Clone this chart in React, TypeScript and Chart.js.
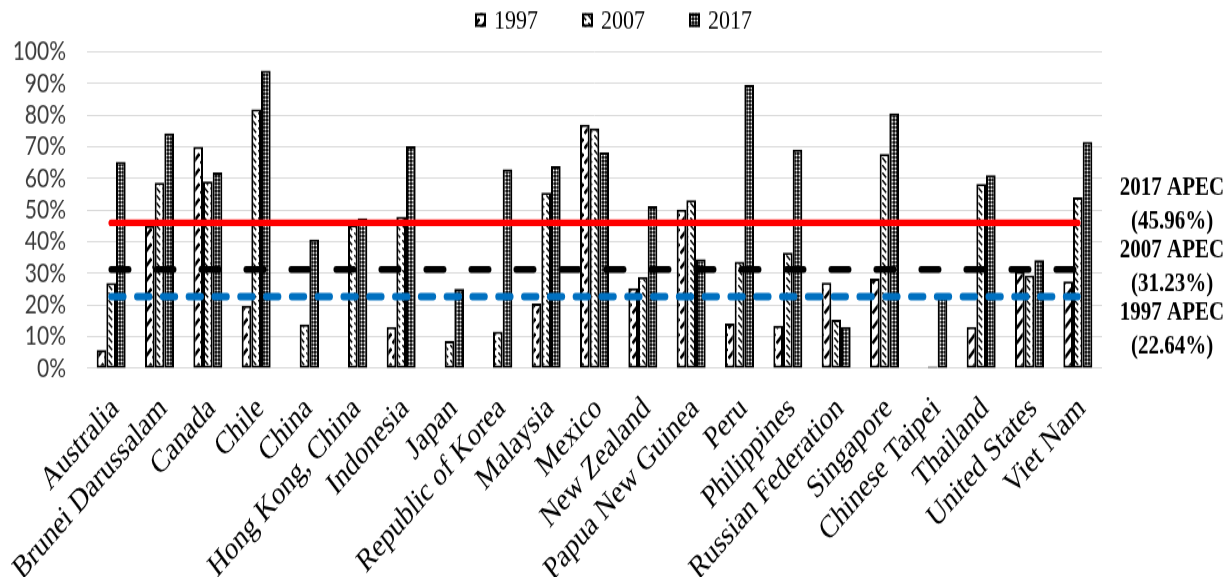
import React, { useEffect, useRef } from "react";
import { Chart, registerables } from "chart.js";

Chart.register(...registerables);

// ---------------- data ----------------
const categories = [
  "Australia",
  "Brunei Darussalam",
  "Canada",
  "Chile",
  "China",
  "Hong Kong, China",
  "Indonesia",
  "Japan",
  "Republic of Korea",
  "Malaysia",
  "Mexico",
  "New Zealand",
  "Papua New Guinea",
  "Peru",
  "Philippines",
  "Russian Federation",
  "Singapore",
  "Chinese Taipei",
  "Thailand",
  "United States",
  "Viet Nam",
];

const share1997 = [5.8, 45, 70, 19.8, null, null, 13.1, null, null, 20.5, 77, 25.3, 50.2, 14.2, 13.5, 27.1, 28.4, null, 13.1, 30.5, 27.5];
const share2007 = [27, 58.6, 59, 81.8, 13.9, 45.3, 47.9, 8.6, 11.6, 55.5, 75.8, 28.9, 53.1, 33.7, 36.5, 15.3, 67.7, 0.6, 58.2, 29.3, 54];
const share2017 = [65.2, 74.2, 61.9, 94, 40.7, 47.4, 70.2, 25.1, 62.9, 63.9, 68.2, 51.2, 34.5, 89.5, 69.1, 13.1, 80.5, 23, 61, 34.2, 71.6];

const seriesYears = ["1997", "2007", "2017"];
const apecAverages = [22.64, 31.23, 45.96];

// ---------------- layout constants ----------------
const WIDTH = 1227;
const OUT_HEIGHT = 577;
const CANVAS_HEIGHT = 462;
const STRETCH = OUT_HEIGHT / CANVAS_HEIGHT;

function makePattern(kind: number): CanvasPattern | string {
  const c = document.createElement("canvas");
  const g = c.getContext("2d");
  if (!g) return "#888";
  if (kind === 0) {
    c.width = 8;
    c.height = 12;
    g.fillStyle = "#ffffff";
    g.fillRect(0, 0, 8, 12);
    g.strokeStyle = "#000000";
    g.lineWidth = 2.6;
    g.beginPath();
    g.moveTo(0.5, 11);
    g.lineTo(7.5, 3);
    g.stroke();
  } else if (kind === 1) {
    c.width = 6;
    c.height = 6;
    g.fillStyle = "#ffffff";
    g.fillRect(0, 0, 6, 6);
    g.strokeStyle = "#000000";
    g.lineWidth = 1.5;
    g.beginPath();
    g.moveTo(0.3, 0.3);
    g.lineTo(4.2, 4.2);
    g.stroke();
  } else {
    c.width = 3;
    c.height = 3;
    g.fillStyle = "#000000";
    g.fillRect(0, 0, 3, 3);
    g.fillStyle = "#ffffff";
    g.beginPath();
    g.arc(1.5, 1.5, 1.05, 0, Math.PI * 2);
    g.fill();
  }
  const p = g.createPattern(c, "repeat");
  return p || "#888";
}

export default function App() {
  const ref = useRef<HTMLCanvasElement | null>(null);

  useEffect(() => {
    const canvas = ref.current;
    if (!canvas) return;
    const patterns = [makePattern(0), makePattern(1), makePattern(2)];
    const lineColors = ["#0070C0", "#000000", "#FF0000"];
    const lineWidths = [5.8, 5.4, 5.4];
    const lineDashes = [[12.5, 13.3], [17.6, 27.4], []];

    const first = categories[0];
    const last = categories[categories.length - 1];

    const lineSets = apecAverages.map((avg, i) => ({
      type: "line" as const,
      label: `${seriesYears[i]} APEC`,
      data: [
        { x: first, y: avg },
        { x: last, y: avg },
      ],
      borderColor: lineColors[i],
      borderWidth: lineWidths[i],
      borderDash: lineDashes[i],
      borderCapStyle: "round" as const,
      pointRadius: 0,
      fill: false,
      order: 0,
    }));

    const barSets = [share1997, share2007, share2017].map((vals, i) => ({
      type: "bar" as const,
      label: seriesYears[i],
      data: vals,
      backgroundColor: patterns[i],
      borderColor: "#000000",
      borderWidth: 2,
      borderSkipped: false,
      order: 1,
    }));

    const textPlugin = {
      id: "apecText",
      afterDraw(chart: any) {
        const { ctx, chartArea, width } = chart;
        ctx.save();
        // legend
        ctx.font = '22px "Liberation Serif"';
        ctx.textBaseline = "alphabetic";
        ctx.textAlign = "left";
        const box = 11;
        const gap = 8;
        const spacing = 44;
        const tw = seriesYears.map((t) => ctx.measureText(t).width);
        const total = tw.reduce((a, w) => a + box + gap + w, 0) + spacing * (seriesYears.length - 1);
        let x = width / 2 - total / 2;
        seriesYears.forEach((t, i) => {
          ctx.fillStyle = patterns[i];
          ctx.fillRect(x, 10.5, box, 11);
          ctx.strokeStyle = "#000000";
          ctx.lineWidth = 2;
          ctx.strokeRect(x + 1, 11.5, box - 2, 9);
          ctx.fillStyle = "#000000";
          ctx.fillText(t, x + box + gap, 22.7);
          x += box + gap + tw[i] + spacing;
        });
        // right-hand APEC labels (top: latest year)
        ctx.font = 'bold 21px "Liberation Serif"';
        ctx.textAlign = "center";
        const cx = chartArea.right + 70;
        const order = [2, 1, 0];
        order.forEach((idx, g) => {
          const b1 = 156.1 + g * 50.1;
          ctx.fillText(`${seriesYears[idx]} APEC`, cx, b1);
          ctx.fillText(`(${apecAverages[idx].toFixed(2)}%)`, cx, b1 + 26.9);
        });
        ctx.restore();
      },
    };

    const chart = new Chart(canvas, {
      type: "bar",
      data: {
        labels: categories,
        datasets: [...lineSets, ...barSets] as any,
      },
      options: {
        responsive: false,
        maintainAspectRatio: false,
        animation: false,
        layout: { padding: { top: 41.4, right: 125, left: 0, bottom: 0 } },
        datasets: { bar: { categoryPercentage: 0.6, barPercentage: 1.0 } },
        plugins: {
          legend: { display: false },
          tooltip: { enabled: false },
        },
        scales: {
          x: {
            grid: { display: false },
            border: { display: false },
            ticks: {
              autoSkip: false,
              maxRotation: 43,
              minRotation: 43,
              padding: 9,
              labelOffset: 4,
              color: "#000000",
              font: { family: '"Liberation Serif"', size: 26 },
            },
            afterFit: (s: any) => {
              s.height = 167.1;
            },
          },
          y: {
            min: 0,
            max: 100,
            border: { display: false },
            grid: { color: "#D9D9D9", lineWidth: 1, drawTicks: false },
            ticks: {
              stepSize: 10,
              autoSkip: false,
              padding: 21,
              color: "#3a3a3a",
              font: { family: "Lato", size: 21 },
              callback: (v: any) => `${v}%`,
            },
            afterFit: (s: any) => {
              s.width = 87;
            },
          },
        },
      } as any,
      plugins: [textPlugin],
    });
    return () => chart.destroy();
  }, []);

  return (
    <div
      style={{
        position: "absolute",
        left: 0,
        top: 0,
        width: WIDTH,
        height: OUT_HEIGHT,
        overflow: "hidden",
        background: "#ffffff",
      }}
    >
      <canvas
        ref={ref}
        width={WIDTH}
        height={CANVAS_HEIGHT}
        style={{
          display: "block",
          width: `${WIDTH}px`,
          height: `${CANVAS_HEIGHT}px`,
          transform: `scaleY(${STRETCH})`,
          transformOrigin: "0 0",
        }}
      />
    </div>
  );
}
